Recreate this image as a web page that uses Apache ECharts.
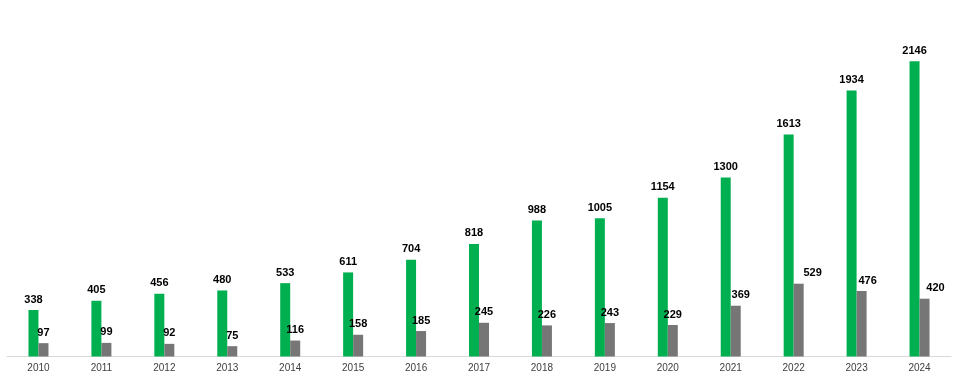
<!DOCTYPE html>
<html>
<head>
<meta charset="utf-8">
<script src="https://cdn.jsdelivr.net/npm/echarts@6/dist/echarts.min.js"></script>
<style>html,body{margin:0;padding:0;background:#fff;}#c{width:958px;height:384px;}</style>
</head>
<body>
<div id="c"></div>
<script>
const years = ['2010','2011','2012','2013','2014','2015','2016','2017','2018','2019','2020','2021','2022','2023','2024'];
const greenValues = [338,405,456,480,533,611,704,818,988,1005,1154,1300,1613,1934,2146];
const greyValues = [97,99,92,75,116,158,185,245,226,243,229,369,529,476,420];
const greyLabelShift = [0,0,0,0,0,0,0,0,0,0,0,5,14,6,11];

const chart = echarts.init(document.getElementById('c'));
const labelStyle = {show:true, position:'top', distance:5, color:'#000', fontWeight:'bold', fontSize:11, fontFamily:'Liberation Sans, Arial, sans-serif'};
chart.setOption({
  animation:false,
  grid:{left:7,right:7,top:12.5,bottom:27.5,containLabel:false},
  xAxis:{type:'category',data:years,
    axisLine:{lineStyle:{color:'#D9D9D9',width:1}},
    axisTick:{show:false},
    axisLabel:{color:'#404040',fontSize:10,fontFamily:'Liberation Sans, Arial, sans-serif',margin:7}},
  yAxis:{type:'value',min:0,max:2500,show:false,splitLine:{show:false}},
  series:[
    {type:'bar',data:greenValues,barWidth:10,barGap:'0%',itemStyle:{color:'#00B050'},label:labelStyle},
    {type:'bar',data:greyValues.map((v,i)=>({value:v,label:{offset:[greyLabelShift[i],0]}})),barWidth:10,barGap:'0%',itemStyle:{color:'#767676'},label:labelStyle}
  ]
});
</script>
</body>
</html>
